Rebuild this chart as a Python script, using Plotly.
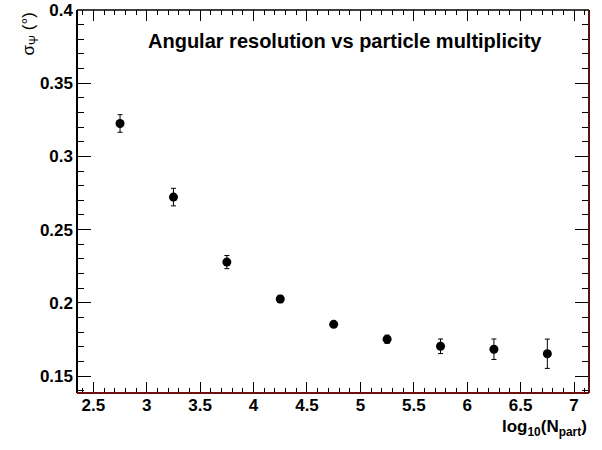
import plotly.graph_objects as go

# Data
log_npart = [2.75, 3.25, 3.75, 4.25, 4.75, 5.25, 5.75, 6.25, 6.75]
sigma_psi = [0.3225, 0.2722, 0.2278, 0.2026, 0.1853, 0.1751, 0.1703, 0.1683, 0.1652]
sigma_err = [0.0060, 0.0060, 0.0045, 0.0025, 0.0012, 0.0028, 0.0050, 0.0070, 0.0100]

title_text = "Angular resolution vs particle multiplicity"
x_title = "log<sub>10</sub>(N<sub>part</sub>)"
y_title = "σ<sub>Ψ</sub> (°)"

FONT = "Liberation Sans, Arial, Helvetica, sans-serif"

fig = go.Figure()
fig.add_trace(go.Scatter(
    x=log_npart, y=sigma_psi, mode="markers",
    marker=dict(color="black", size=9, symbol="circle"),
    error_y=dict(type="data", array=sigma_err, visible=True,
                 color="black", thickness=1, width=2.5),
    showlegend=False, hoverinfo="skip",
))

fig.update_layout(
    width=602, height=450,
    margin=dict(l=77, r=13, t=10, b=57, autoexpand=False),
    plot_bgcolor="white", paper_bgcolor="white",
    font=dict(family=FONT, color="black"),
    xaxis=dict(
        range=[2.347, 7.14], tickmode="array",
        tickvals=[2.5, 3, 3.5, 4, 4.5, 5, 5.5, 6, 6.5, 7],
        ticktext=["<b>2.5</b>", "<b>3</b>", "<b>3.5</b>", "<b>4</b>", "<b>4.5</b>",
                  "<b>5</b>", "<b>5.5</b>", "<b>6</b>", "<b>6.5</b>", "<b>7</b>"],
        ticks="inside", ticklen=11, tickwidth=1, tickcolor="black",
        minor=dict(ticks="inside", ticklen=5, dtick=0.1, tick0=2.5, tickcolor="black"),
        mirror="allticks", showline=False, showgrid=False, zeroline=False,
        automargin=False, ticklabeloverflow="allow",
        tickfont=dict(size=17, family=FONT),
    ),
    yaxis=dict(
        range=[0.1384, 0.4], tickmode="array",
        tickvals=[0.15, 0.2, 0.25, 0.3, 0.35, 0.4],
        ticktext=["<b>0.15</b>", "<b>0.2</b>", "<b>0.25</b>", "<b>0.3</b>", "<b>0.35</b>", "<b>0.4</b>"],
        ticks="inside", ticklen=14, tickwidth=1, tickcolor="black",
        minor=dict(ticks="inside", ticklen=7, dtick=0.01, tick0=0.15, tickcolor="black"),
        mirror="allticks", showline=False, showgrid=False, zeroline=False,
        automargin=False, ticklabeloverflow="allow", ticklabelstandoff=3,
        tickfont=dict(size=17, family=FONT),
    ),
    shapes=[
        dict(type="line", xref="paper", yref="paper", x0=0, x1=0, y0=0, y1=1,
             line=dict(color="black", width=2)),
        dict(type="line", xref="paper", yref="paper", x0=0, x1=1, y0=1, y1=1,
             line=dict(color="black", width=1.5)),
        dict(type="line", xref="paper", yref="paper", x0=0, x1=1, y0=0, y1=0,
             line=dict(color="#6e1010", width=2)),
        dict(type="line", xref="paper", yref="paper", x0=1, x1=1, y0=0, y1=1,
             line=dict(color="#5a1010", width=2)),
    ],
    annotations=[
        dict(text="<b>" + title_text + "</b>", xref="paper", yref="paper",
             x=0.524, y=0.918, xanchor="center", yanchor="middle", showarrow=False,
             font=dict(size=20, family=FONT, color="black")),
        dict(text="<b>" + x_title + "</b>", xref="paper", yref="paper",
             x=1.0, y=-0.058, xanchor="right", yanchor="top", showarrow=False,
             font=dict(size=17, family=FONT, color="black")),
        dict(text=y_title, xref="paper", yref="paper", textangle=-90,
             x=-0.092, y=1.0, xanchor="center", yanchor="top", showarrow=False,
             font=dict(size=17, family=FONT, color="black")),
    ],
)

# remove the browser's default 8px body margin so the figure fills the window
fig.write_html("out.html", config={"displayModeBar": False},
               post_script="document.body.style.margin='0';")
